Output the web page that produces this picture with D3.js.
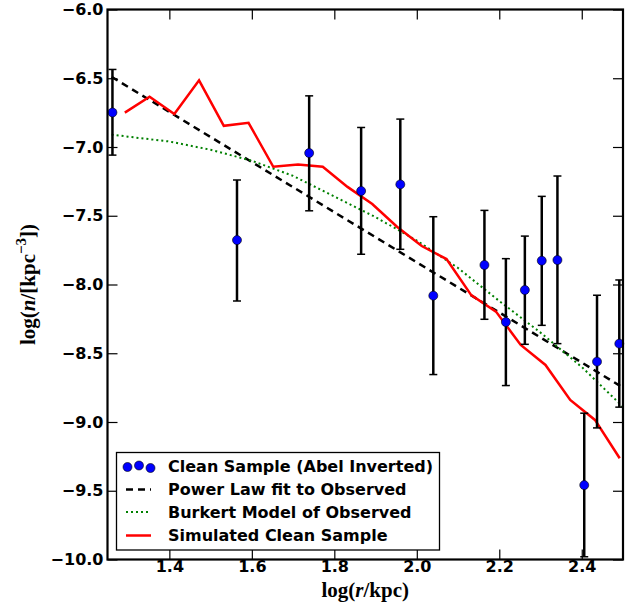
<!DOCTYPE html>
<html>
<head>
<meta charset="utf-8">
<script src="https://cdn.jsdelivr.net/npm/d3@7"></script>
<style>
  body { margin: 0; background: #fff; }
  svg { display: block; }
</style>
</head>
<body>
<script>
// observed clean sample (Abel inverted)
const obsLogR = [1.262, 1.564, 1.739, 1.865, 1.960, 2.040, 2.164, 2.216, 2.262, 2.303, 2.341, 2.406, 2.437, 2.491];
const obsLogN = [-6.749, -7.677, -7.044, -7.320, -7.272, -8.081, -7.858, -8.273, -8.040, -7.827, -7.822, -9.459, -8.561, -8.430];
const obsErrHi = [-6.436, -7.240, -6.628, -6.858, -6.797, -7.507, -7.461, -7.812, -7.648, -7.359, -7.211, -8.936, -8.078, -7.967];
const obsErrLo = [-7.059, -8.120, -7.464, -7.780, -7.744, -8.655, -8.253, -8.735, -8.435, -8.297, -8.430, -9.980, -9.043, -8.892];

// power law fit (straight line in log-log)
const powerLogR = [1.26, 2.50];
const powerLogN = [-6.49, -8.75];

// Burkert model
const burkLogR = [1.26, 1.30, 1.40, 1.50, 1.60, 1.70, 1.80, 1.90, 2.00, 2.10, 2.20, 2.30, 2.40, 2.50];
const burkLogN = [-6.91, -6.925, -6.96, -7.02, -7.10, -7.21, -7.36, -7.51, -7.68, -7.88, -8.12, -8.35, -8.60, -8.89];

// simulated clean sample
const simLogR = [1.292, 1.352, 1.412, 1.472, 1.532, 1.592, 1.652, 1.712, 1.772, 1.832, 1.892, 1.952,
  2.012, 2.072, 2.132, 2.192, 2.252, 2.312, 2.372, 2.432, 2.492];
const simLogN = [-6.75, -6.635, -6.76, -6.515, -6.846, -6.824, -7.144, -7.127, -7.144, -7.29, -7.415, -7.58,
  -7.72, -7.815, -8.077, -8.197, -8.44, -8.585, -8.839, -8.985, -9.264];

const xTicks = [1.4, 1.6, 1.8, 2.0, 2.2, 2.4];
const yTicks = [-6.0, -6.5, -7.0, -7.5, -8.0, -8.5, -9.0, -9.5, -10.0];

const legendLabels = [
  'Clean Sample (Abel Inverted)',
  'Power Law fit to Observed',
  'Burkert Model of Observed',
  'Simulated Clean Sample'
];

const W = 628, H = 602;
const pL = 107.5, pR = 623, pT = 9.5, pB = 559.5;

const svg = d3.select('body').append('svg')
  .attr('width', W)
  .attr('height', H);

const x = d3.scaleLinear().domain([1.25, 2.5]).range([pL, pR]);
const y = d3.scaleLinear().domain([-10, -6]).range([pB, pT]);

svg.append('clipPath').attr('id', 'clip')
  .append('rect')
  .attr('x', pL).attr('y', pT)
  .attr('width', pR - pL).attr('height', pB - pT);

const tickFont = 'bold 16px "DejaVu Sans", sans-serif';

// axes (inward ticks on all four sides)
function styleAxis(g, showText) {
  g.select('.domain').remove();
  g.selectAll('.tick line').attr('stroke', '#000').attr('stroke-width', 1.2);
  g.selectAll('.tick text')
    .style('font', tickFont)
    .attr('fill', '#000')
    .style('display', showText ? null : 'none');
}

svg.append('g')
  .attr('transform', `translate(0,${pB})`)
  .call(d3.axisBottom(x).tickValues(xTicks).tickSize(-10).tickPadding(1.5).tickFormat(d3.format('.1f')))
  .call(g => styleAxis(g, true));

svg.append('g')
  .attr('transform', `translate(0,${pT})`)
  .call(d3.axisTop(x).tickValues(xTicks).tickSize(-10))
  .call(g => styleAxis(g, false));

svg.append('g')
  .attr('transform', `translate(${pL},0)`)
  .call(d3.axisLeft(y).tickValues(yTicks).tickSize(-10).tickPadding(4).tickFormat(d3.format('.1f')))
  .call(g => styleAxis(g, true));

svg.append('g')
  .attr('transform', `translate(${pR},0)`)
  .call(d3.axisRight(y).tickValues(yTicks).tickSize(-10))
  .call(g => styleAxis(g, false));

const plot = svg.append('g').attr('clip-path', 'url(#clip)');

const line = d3.line()
  .x(d => x(d[0]))
  .y(d => y(d[1]));

// power law
plot.append('path')
  .datum(d3.zip(powerLogR, powerLogN))
  .attr('d', line)
  .attr('fill', 'none')
  .attr('stroke', '#000')
  .attr('stroke-width', 2.5)
  .attr('stroke-dasharray', '7,5');

// burkert
plot.append('path')
  .datum(d3.zip(burkLogR, burkLogN))
  .attr('d', line)
  .attr('fill', 'none')
  .attr('stroke', '#008000')
  .attr('stroke-width', 2)
  .attr('stroke-dasharray', '2,3');

// simulated
plot.append('path')
  .datum(d3.zip(simLogR, simLogN))
  .attr('d', line)
  .attr('fill', 'none')
  .attr('stroke', '#ff0000')
  .attr('stroke-width', 2.5)
  .attr('stroke-linejoin', 'miter');

// error bars
const obs = obsLogR.map((r, i) => ({ r: r, n: obsLogN[i], hi: obsErrHi[i], lo: obsErrLo[i] }));

const eb = svg.append('g').selectAll('g')
  .data(obs).enter()
  .append('g');

eb.append('line')
  .attr('x1', d => x(d.r)).attr('x2', d => x(d.r))
  .attr('y1', d => y(d.hi)).attr('y2', d => y(d.lo))
  .attr('stroke', '#000')
  .attr('stroke-width', 2.5);

['hi', 'lo'].forEach(k => {
  eb.append('line')
    .attr('x1', d => x(d.r) - 4).attr('x2', d => x(d.r) + 4)
    .attr('y1', d => y(d[k])).attr('y2', d => y(d[k]))
    .attr('stroke', '#000')
    .attr('stroke-width', 1.5);
});

svg.append('g').selectAll('circle')
  .data(obs).enter()
  .append('circle')
  .attr('cx', d => x(d.r))
  .attr('cy', d => y(d.n))
  .attr('r', 4.5)
  .attr('fill', '#0000ff')
  .attr('stroke', '#000')
  .attr('stroke-width', 0.6);

// frame
svg.append('rect')
  .attr('x', pL).attr('y', pT)
  .attr('width', pR - pL).attr('height', pB - pT)
  .attr('fill', 'none')
  .attr('stroke', '#000')
  .attr('stroke-width', 2.2);

// legend
const lg = svg.append('g');
lg.append('rect')
  .attr('x', 116.5).attr('y', 452.5)
  .attr('width', 323).attr('height', 97.5)
  .attr('fill', '#fff')
  .attr('stroke', '#000')
  .attr('stroke-width', 1.3);

const rowY = [466.5, 489.5, 512, 535.5];

lg.selectAll('text')
  .data(legendLabels).enter()
  .append('text')
  .attr('x', 168)
  .attr('y', (d, i) => rowY[i])
  .attr('dy', '0.36em')
  .style('font', tickFont)
  .attr('fill', '#000')
  .text(d => d);

lg.selectAll('circle')
  .data([[127.5, 0.5], [139, -1], [150.5, 1.5]]).enter()
  .append('circle')
  .attr('cx', d => d[0])
  .attr('cy', d => rowY[0] + d[1])
  .attr('r', 4.5)
  .attr('fill', '#0000ff')
  .attr('stroke', '#000')
  .attr('stroke-width', 0.6);

lg.append('line')
  .attr('x1', 126).attr('x2', 151)
  .attr('y1', rowY[1]).attr('y2', rowY[1])
  .attr('stroke', '#000').attr('stroke-width', 2.5)
  .attr('stroke-dasharray', '7,5');

lg.append('line')
  .attr('x1', 126).attr('x2', 151)
  .attr('y1', rowY[2]).attr('y2', rowY[2])
  .attr('stroke', '#008000').attr('stroke-width', 2)
  .attr('stroke-dasharray', '2,3');

lg.append('line')
  .attr('x1', 126).attr('x2', 151)
  .attr('y1', rowY[3]).attr('y2', rowY[3])
  .attr('stroke', '#ff0000').attr('stroke-width', 2.5);

// axis labels
const labelFont = 'bold 21px "Liberation Serif", "Times New Roman", serif';

const xl = svg.append('text')
  .attr('x', (pL + pR) / 2)
  .attr('y', 597)
  .attr('text-anchor', 'middle')
  .style('font', labelFont)
  .attr('fill', '#000');
xl.append('tspan').text('log(');
xl.append('tspan').style('font-style', 'italic').text('r');
xl.append('tspan').text('/kpc)');

const yl = svg.append('text')
  .attr('transform', `translate(35,${(pT + pB) / 2}) rotate(-90)`)
  .attr('text-anchor', 'middle')
  .style('font', labelFont)
  .attr('fill', '#000');
yl.append('tspan').text('log(');
yl.append('tspan').style('font-style', 'italic').text('n');
yl.append('tspan').text('/[kpc');
yl.append('tspan').attr('dy', -9).style('font-size', '15px').text('−3');
yl.append('tspan').attr('dy', 9).text('])');
</script>
</body>
</html>
